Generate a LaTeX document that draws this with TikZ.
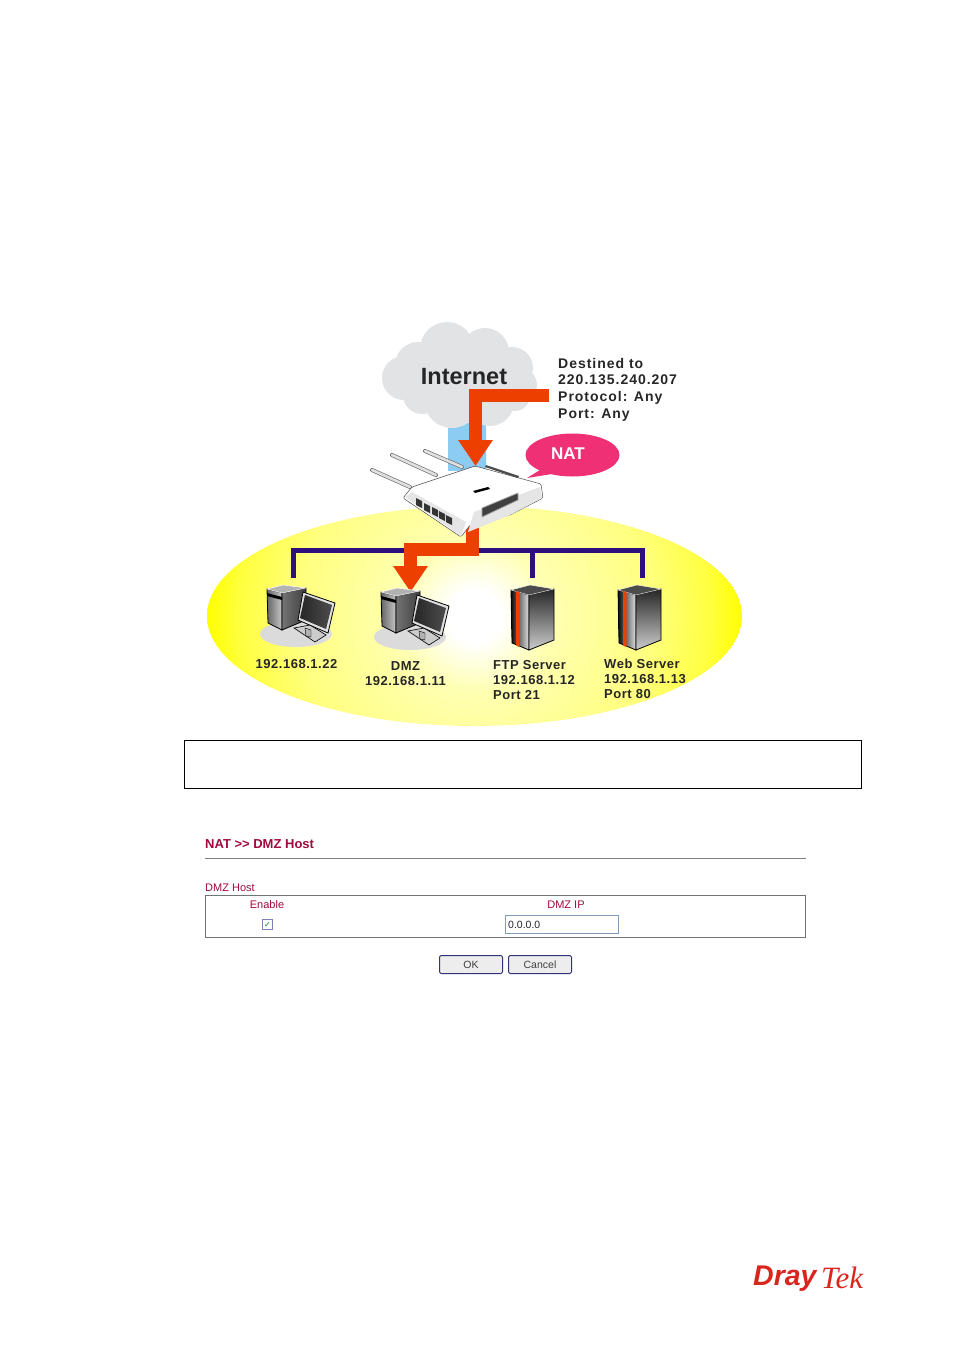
\documentclass[tikz,border=0pt]{standalone}
\usepackage{fontspec}
\setmainfont{Liberation Sans}
\newfontfamily\labelfont[LetterSpace=4]{Liberation Sans}
\newfontfamily\destfont[LetterSpace=7]{Liberation Sans}
\newfontfamily\logofont{Liberation Serif}
\usepackage{tikz}
\usetikzlibrary{arrows.meta,shapes.geometric,positioning}
\definecolor{flow}{HTML}{EC3F00}
\definecolor{bus}{HTML}{2E0F7E}
\definecolor{cloudgrey}{HTML}{E2E3E5}
\definecolor{natpink}{HTML}{F03075}
\definecolor{webred}{HTML}{A00A3C}
\definecolor{logored}{HTML}{D8261C}
\definecolor{inputblue}{HTML}{7F9DB9}
\definecolor{beamblue}{HTML}{8CCBF2}
\pgfdeclareradialshading{zoneglow}{\pgfpointorigin}{
    rgb(0bp)=(1,1,1);
    rgb(2.5bp)=(1,1,1);
    rgb(7bp)=(1,1,0.7);
    rgb(16.5bp)=(1,1,0.5);
    rgb(22bp)=(1,1,0.25);
    rgb(25bp)=(1,1,0);
    rgb(50bp)=(1,1,0)}
\tikzset{
    flowline/.style={
           draw=flow,
           line width=13pt,
           -{Triangle[width=33pt,length=26pt]},
           },
}
\tikzset{
    busline/.style={
           draw=bus,
           line width=5pt,
           },
}
\tikzset{
    tag/.style={
           font=\labelfont\bfseries\fontsize{13}{15}\selectfont,
           text=black!85,
           inner sep=0pt,
           },
}
\tikzset{
    webtext/.style={
           font=\fontsize{11}{12}\selectfont,
           text=webred,
           inner sep=0pt,
           },
}
\tikzset{
    webbutton/.style={
           rectangle,
           draw=black!65!blue!80,
           fill=black!7,
           rounded corners=1.5pt,
           line width=1pt,
           minimum width=63pt,
           minimum height=18pt,
           inner sep=0pt,
           font=\fontsize{10.5}{12}\selectfont,
           text=black!75,
           },
}
\tikzset{
    aerial/.style={
           line cap=round,
           draw=black!55,
           line width=4pt,
           postaction={draw=black!12,line width=2.6pt},
           },
}
\tikzset{
    computer/.pic={
        \fill[black!14] (0,0) ellipse (36 and 13);
        \shade[left color=black!60,right color=black!22,draw=black,line width=0.8pt]
            (-29,-45) -- (-14,-41) -- (-14,-4) -- (-28,-11) -- cycle;
        \shade[left color=black!55,right color=black!75,draw=black,line width=0.8pt]
            (-14,-41) -- (10,-46) -- (10,-14) -- (-14,-4) -- cycle;
        \fill[black!30,draw=white,line width=0.5pt] (-29,-45) -- (-13,-49) -- (10,-46) -- (-14,-41) -- cycle;
        \fill[black] (-29,-41) -- (-14,-37) -- (-14,-34) -- (-29,-38) -- cycle;
        \fill[black!20,draw=black,line width=0.6pt] (-2,-6) -- (14,-9) -- (30,1) -- (19,8) -- cycle;
        \fill[black!30,draw=black,line width=0.4pt] (9,-6) -- (15,-4) -- (15,3) -- (10,2) -- cycle;
        \fill[black!12,draw=black,line width=0.8pt] (7,-42) -- (39,-31) -- (32,-1) -- (2,-14) -- cycle;
        \shade[left color=black!85,right color=black!70] (9,-39) -- (36,-29) -- (30,-5) -- (4,-16) -- cycle;
    },
}
\tikzset{
    server/.pic={
        \shade[left color=black!95,right color=black!12,draw=black,line width=0.8pt]
            (0,0) -- (18,5) -- (18,60) -- (1,53) -- cycle;
        \shade[top color=black!85,bottom color=black!20,draw=black,line width=0.8pt]
            (18,5) -- (43,-1) -- (43,50) -- (18,60) -- cycle;
        \fill[black!70,draw=white,line width=0.4pt] (0,0) -- (19,-5) -- (43,-1) -- (18,5) -- cycle;
        \fill[flow] (5,1) -- (8.5,2) -- (8.5,57) -- (5,55.5) -- cycle;
    },
}
\begin{document}
\begin{tikzpicture}[x=1pt,y=-1pt]
\useasboundingbox (0,0) rectangle (954,1351);

\shade[left color=beamblue,middle color=white,right color=beamblue] (448,423) rectangle (486,470);
\fill[cloudgrey] (418,365) circle (23) (447,349) circle (27) (485,352) circle (24) (512,368) circle (21)
    (404,378) circle (22) (520,385) circle (17) (422,395) circle (19) (452,400) circle (28) (490,402) circle (24)
    (515,396) circle (15) (460,375) circle (35);
\node[font=\bfseries\fontsize{23.5}{28}\selectfont,text=black!85,inner sep=0pt] (internet) at (464,377) {Internet};

\node[ellipse,minimum width=535pt,minimum height=220pt,inner sep=0pt,
    path picture={\shade[shading=zoneglow] (0,0) circle (268);}] (zone) at (474.5,616) {};

\coordinate (bustap1) at (293,578);
\coordinate (bustap2) at (532,578);
\coordinate (bustap3) at (642,578);
\coordinate (busjoin) at (532,550.5);
\draw[busline] (bustap1) |- (busjoin);
\draw[busline] (bustap2) -- (busjoin);
\draw[busline] (bustap3) |- (busjoin);

\coordinate (routerout) at (472,525);
\coordinate (routerin) at (475.5,466);
\coordinate (natin) at (549,395.5);
\coordinate (flowcorner) at (410.5,549);
\coordinate (dmzhost) at (410.5,592);
\draw[flowline] (routerout) |- (flowcorner) -- (dmzhost);

\draw[aerial] (372,470) -- (410,487);
\draw[aerial] (392,455) -- (436,475);
\draw[aerial] (425,451) -- (462,467);
\fill[white,draw=black!70,line width=0.5pt,rounded corners=1.5pt] (403,498) -- (412,487) -- (475,466) -- (541,484) -- (543,498) -- (510,515) -- (470,525) -- (461,537) -- cycle;
\fill[black!10] (405,497) -- (412,492) -- (466,522) -- (461,536) -- cycle;
\fill[black!10] (474,512) -- (540,487) -- (542,498) -- (510,515) -- (468,532) -- cycle;
\foreach \portx/\porty in {416/498,424/503,432/507,439/511,446/515}
    \fill[black!80] (\portx,\porty) -- ++(6,3) -- ++(0,7) -- ++(-6,-3) -- cycle;
\fill[black!75,draw=black!35,line width=0.8pt] (482,508) -- (518,493) -- (518,500) -- (482,517) -- cycle;
\fill[black] (473,491) -- (488,487) -- (490,489) -- (475,493) -- cycle;
\fill[black!70] (486,465) -- (519,476) -- (518,478) -- (485,467) -- cycle;

\draw[flowline] (natin) -| (routerin);

\node[tag,font=\destfont\bfseries\fontsize{14}{16.6}\selectfont,align=left,anchor=north west] (destlabel) at (558,358) {Destined to\\220.135.240.207\\Protocol: Any\\Port: Any};

\fill[natpink] (540,470) -- (527,478) -- (552,474) -- cycle;
\node[ellipse,fill=natpink,minimum width=94pt,minimum height=43pt,inner sep=0pt] (nat) at (572.5,455) {};
\node[text=white,inner sep=0pt,font=\bfseries\fontsize{17}{20}\selectfont] (natlabel) at (568,454) {NAT};

\pic (pc1) at (296,634) {computer};
\pic (pc2) at (410,637) {computer};
\pic (ftp) at (511,590) {server};
\pic (web) at (618,590) {server};

\node[tag] (pc1label) at (296.5,664.5) {192.168.1.22};
\node[tag,align=center] (pc2label) at (405.5,673.5) {DMZ\\192.168.1.11};
\node[tag,align=left,anchor=north west] (ftplabel) at (493,660.5) {FTP Server\\192.168.1.12\\Port 21};
\node[tag,align=left,anchor=north west] (weblabel) at (604,659) {Web Server\\192.168.1.13\\Port 80};

\node[rectangle,draw=black,line width=1pt,minimum width=677pt,minimum height=48pt,inner sep=0pt] (notebox) at (523,764.5) {};

\node[webtext,font=\bfseries\fontsize{13}{14}\selectfont,anchor=west] (webtitle) at (205,844) {NAT >{}> DMZ Host};
\coordinate (ruleleft) at (205,858.5);
\coordinate (ruleright) at (806,858.5);
\draw[black!50,line width=1pt] (ruleleft) -- (ruleright);
\node[webtext,anchor=west] (webhost) at (205,888) {DMZ Host};
\node[rectangle,draw=black!55,line width=1pt,minimum width=600pt,minimum height=42pt,inner sep=0pt] (webtable) at (505.5,916) {};
\node[webtext] (webenable) at (267,905) {Enable};
\node[webtext] (webip) at (566,905) {DMZ IP};
\node[rectangle,draw=black!60!blue!50,fill=white,line width=0.8pt,minimum size=10pt,inner sep=0pt,text=green!55!black,font=\fontsize{8}{8}\selectfont] (webcheck) at (267.5,924.5) {\fontspec{DejaVu Sans}✓};
\node[rectangle,draw=inputblue,fill=white,line width=1pt,minimum width=113pt,minimum height=18pt,inner sep=0pt] (webinput) at (561.5,924.5) {};
\node[inner sep=0pt,anchor=west,text=black!85,font=\fontsize{10.5}{12}\selectfont] (webvalue) at (508,925) {0.0.0.0};
\node[webbutton] (webok) at (471,964.5) {OK};
\node[webbutton,right=5pt of webok] (webcancel) {Cancel};

\node[inner sep=0pt,anchor=west,text=logored,font=\bfseries\itshape\fontsize{28.5}{30}\selectfont] (logodray) at (753,1279) {Dray};
\node[inner sep=0pt,anchor=west,text=logored,font=\logofont\itshape\fontsize{31}{30}\selectfont] (logotek) at (821,1278) {Tek};
\end{tikzpicture}
\end{document}
